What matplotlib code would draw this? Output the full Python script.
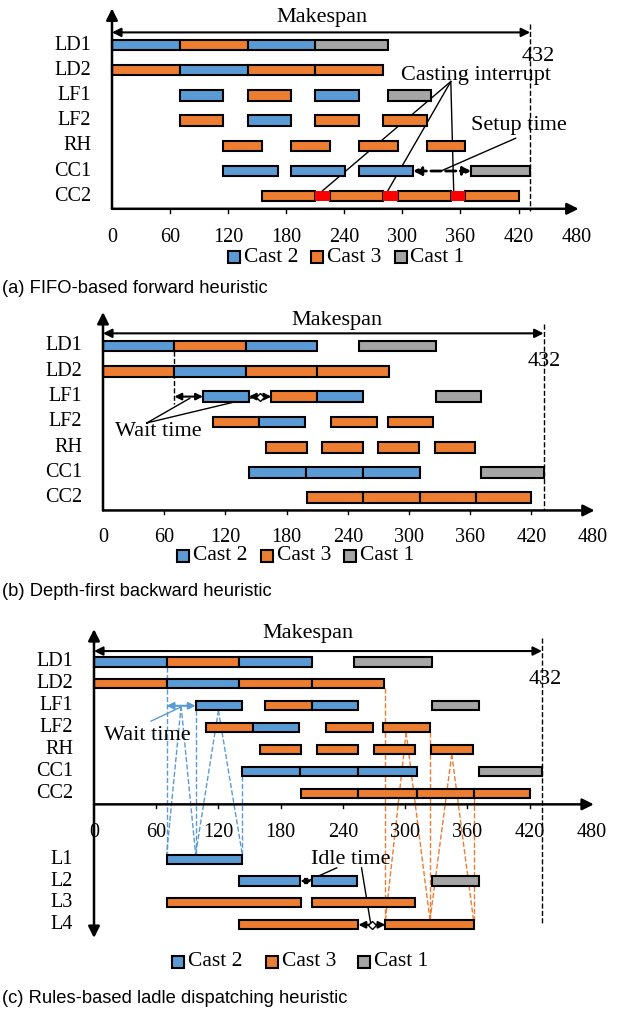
import matplotlib
matplotlib.use('Agg')
import matplotlib.pyplot as plt

plt.rcParams['font.family'] = ['Liberation Serif', 'DejaVu Serif']
plt.rcParams['font.size'] = 14.5
NOTE = 16      # annotation text size
LEG = 15.5     # legend text size

W, H = 624, 1013
BLUE, ORANGE, GRAY, RED = '#5B9BD5', '#ED7D31', '#A5A5A5', '#FF0000'
cast_color = {2: BLUE, 3: ORANGE, 1: GRAY}

stages = ['LD1', 'LD2', 'LF1', 'LF2', 'RH', 'CC1', 'CC2']
ladles = ['L1', 'L2', 'L3', 'L4']
ticks = [0, 60, 120, 180, 240, 300, 360, 420, 480]
makespan = 432

# (a) FIFO-based forward heuristic: stage row, start, end, cast
fifo_row = [0, 0, 0, 0, 1, 1, 1, 1, 2, 2, 2, 2, 3, 3, 3, 3, 4, 4, 4, 4, 5, 5, 5, 5, 6, 6, 6, 6]
fifo_start = [0, 70, 140, 210, 0, 70, 140, 210, 70, 140, 210, 285, 70, 140, 210, 280,
              115, 185, 255, 325, 115, 185, 255, 371, 155, 225, 295, 365]
fifo_end = [70, 140, 210, 285, 70, 140, 210, 280, 115, 185, 255, 330, 115, 185, 255, 325,
            155, 225, 295, 365, 171, 241, 311, 432, 210, 280, 350, 420]
fifo_cast = [2, 3, 2, 1, 3, 2, 3, 3, 2, 3, 2, 1, 3, 2, 3, 3, 3, 3, 3, 3, 2, 2, 2, 1, 3, 3, 3, 3]
interrupt_start = [210, 280, 350]
interrupt_end = [225, 295, 365]

# (b) depth-first backward heuristic (same stage schedule used in (c))
back_row = fifo_row
back_start = [0, 70, 140, 251, 0, 70, 140, 210, 98, 165, 210, 326, 108, 153, 224, 279,
              160, 215, 270, 325, 143, 199, 255, 371, 200, 255, 311, 366]
back_end = [70, 140, 210, 326, 70, 140, 210, 280, 143, 210, 255, 371, 153, 198, 269, 324,
            200, 255, 310, 365, 199, 255, 311, 432, 255, 311, 366, 420]
back_cast = fifo_cast

# (c) ladle usage
ladle_row = [0, 1, 1, 1, 2, 2, 3, 3]
ladle_start = [70, 140, 210, 326, 70, 210, 140, 281]
ladle_end = [143, 199, 254, 371, 200, 310, 255, 366]
ladle_cast = [2, 2, 2, 1, 3, 3, 3, 3]

fig = plt.figure(figsize=(W / 100, H / 100), dpi=100)


def panel(top, bottom, x0, ppm, y0, ppr):
    ax = fig.add_axes([0, 1 - bottom / H, 1, (bottom - top) / H])
    ax.set_xlim(-x0 / ppm, (W - x0) / ppm)
    ax.set_ylim((bottom - y0) / ppr, (top - y0) / ppr)
    ax.axis('off')
    return ax


def bars(ax, rows, starts, ends, casts, offset=0):
    for r, s, e, c in zip(rows, starts, ends, casts):
        ax.barh(r + offset, e - s, left=s, height=0.42, color=cast_color[c],
                edgecolor='black', linewidth=1.5, zorder=3)


def frame(ax, x0, ppm, label_px, top_row, tick_row, y_bottom=None, axis_row=6.5):
    arrow = dict(arrowstyle='-|>', lw=1.8, color='black', mutation_scale=17,
                 shrinkA=0, shrinkB=0)
    ax.annotate('', xy=(482, axis_row), xytext=(0, axis_row), arrowprops=arrow)
    if y_bottom is None:
        ax.annotate('', xy=(0, top_row), xytext=(0, axis_row), arrowprops=arrow)
    else:
        ax.annotate('', xy=(0, top_row), xytext=(0, y_bottom),
                    arrowprops=dict(arrow, arrowstyle='<|-|>'))
    for t in ticks[1:-1]:
        ax.plot([t, t], [axis_row, axis_row + 0.15], color='black', lw=1)
    for t in ticks:
        ax.text(t, tick_row, str(t), ha='center', va='center')
    lt = (label_px - x0) / ppm
    for i, s in enumerate(stages):
        ax.text(lt, i, s, ha='right', va='center')


def makespan_mark(ax, text_pos, num_pos, dash_top, dash_bottom):
    ax.annotate('', xy=(makespan, -0.5), xytext=(0, -0.5),
                arrowprops=dict(arrowstyle='<|-|>', lw=1.5, color='black',
                                mutation_scale=13, shrinkA=0, shrinkB=0))
    ax.text(text_pos[0], text_pos[1], 'Makespan', ha='center', va='center', fontsize=NOTE)
    ax.text(num_pos[0], num_pos[1], str(makespan), ha='center', va='center', fontsize=NOTE)
    ax.plot([makespan, makespan], [dash_top, dash_bottom], color='black', ls='--', lw=1)


def legend(ax, x0, ppm, y0, ppr, sq_px, y_px):
    r = (y_px - y0) / ppr
    for px, (name, c) in zip(sq_px, [('Cast 2', 2), ('Cast 3', 3), ('Cast 1', 1)]):
        t = (px - x0) / ppm
        ax.plot(t, r, marker='s', ms=8, mfc=cast_color[c], mec='black', mew=1.5,
                ls='none', clip_on=False)
        ax.text(t + 10 / ppm, r, name, ha='left', va='center', fontsize=LEG)


def dbl_arrow(ax, x1, x2, y, color='black', ls='-', lw=1.5, ms=10, mid=False):
    ax.annotate('', xy=(x2, y), xytext=(x1, y),
                arrowprops=dict(arrowstyle='<|-|>', lw=lw, color=color, ls=ls,
                                mutation_scale=ms, shrinkA=0, shrinkB=0), zorder=4)
    if mid:
        ax.plot((x1 + x2) / 2, y, marker='D', ms=4, mfc='white', mec='black', mew=1, zorder=5)


def caption(ypx, s):
    fig.text(2 / W, 1 - ypx / H, s, ha='left', va='center', fontsize=13.2,
             family=['Liberation Sans', 'DejaVu Sans'])


# ---------------- (a) ----------------
PA = 0.968
ax = panel(0, 300, 112, PA, 45, 25.2)
bars(ax, fifo_row, fifo_start, fifo_end, fifo_cast)
for s, e in zip(interrupt_start, interrupt_end):
    ax.barh(6, e - s, left=s, height=0.42, color=RED, zorder=3)
frame(ax, 112, PA, 91, -1.45, 7.62)
makespan_mark(ax, (217, -1.1), (440, 0.45), -0.85, 6.6)
ax.text(376, 1.2, 'Casting interrupt', ha='center', va='center', fontsize=NOTE)
for t, r in [(217, 5.8), (285, 5.78), (353, 5.8)]:
    ax.plot([350, t], [1.45, r], color='black', lw=1)
ax.text(420, 3.2, 'Setup time', ha='center', va='center', fontsize=NOTE)
ax.plot([417, 341], [3.7, 4.98], color='black', lw=1)
dbl_arrow(ax, 311, 371, 5, ls='--', lw=2, ms=12)
legend(ax, 112, PA, 45, 25.2, [234.5, 317.5, 400.5], 257)
caption(288, '(a) FIFO-based forward heuristic')

# ---------------- (b) ----------------
ax = panel(300, 610, 103, 1.02, 346, 25.3)
bars(ax, back_row, back_start, back_end, back_cast)
frame(ax, 103, 1.02, 82, -1.34, 7.55)
makespan_mark(ax, (229, -1.0), (433, 0.6), -0.88, 6.5)
ax.plot([70, 70], [0.21, 2.3], color='black', ls='--', lw=1)
dbl_arrow(ax, 70, 98, 2)
dbl_arrow(ax, 143, 165, 2, mid=True)
ax.text(54, 3.39, 'Wait time', ha='center', va='center', fontsize=NOTE)
for t, r in [(85, 2.07), (151, 2.0)]:
    ax.plot([43, t], [3.04, r], color='black', lw=1)
legend(ax, 103, 1.02, 346, 25.3, [183, 267, 350], 556)
caption(592, '(b) Depth-first backward heuristic')

# ---------------- (c) ----------------
ax = panel(610, 1013, 94, 1.037, 662, 21.9)
bars(ax, back_row, back_start, back_end, back_cast)
bars(ax, ladle_row, ladle_start, ladle_end, ladle_cast, offset=9)
frame(ax, 94, 1.037, 73, -1.5, 7.8, y_bottom=12.6)
for i, s in enumerate(ladles):
    ax.text((73 - 94) / 1.037, 9 + i, s, ha='right', va='center')
makespan_mark(ax, (206, -1.3), (435, 0.8), -1.1, 12)

# ladle L1 (cast 2) path
l1_top = 8.79
for (t1, r1), t2 in [((70, 0.21), 70), ((84, 2.0), 70), ((84, 2.0), 98), ((98, 2.21), 98),
                     ((120, 2.21), 98), ((120, 2.21), 143), ((143, 5.21), 143)]:
    ax.plot([t1, t2], [r1, l1_top], color=BLUE, ls='--', lw=1, zorder=2)
# ladle L4 (cast 3) path
l4_top = 11.79
for (t1, r1), t2 in [((281, 1.21), 281), ((301, 3.21), 281), ((301, 3.21), 324),
                     ((324, 3.21), 324), ((345, 4.21), 324), ((345, 4.21), 366),
                     ((366, 6.21), 366)]:
    ax.plot([t1, t2], [r1, l4_top], color=ORANGE, ls='--', lw=1, zorder=2)

dbl_arrow(ax, 70, 98, 2, color=BLUE)
ax.text(51, 3.37, 'Wait time', ha='center', va='center', fontsize=NOTE)
ax.plot([55, 84], [2.7, 2.05], color=BLUE, lw=1)

ax.text(248, 9.0, 'Idle time', ha='center', va='center', fontsize=NOTE)
ax.plot([234, 206], [9.4, 10], color='black', lw=1)
ax.plot([258, 267], [9.4, 12], color='black', lw=1)
dbl_arrow(ax, 199, 210, 10, ms=8)
dbl_arrow(ax, 255, 281, 12, mid=True)
legend(ax, 94, 1.037, 662, 21.9, [178, 272, 364], 962)
caption(998, '(c) Rules-based ladle dispatching heuristic')

fig.savefig('out.png', dpi=100)
